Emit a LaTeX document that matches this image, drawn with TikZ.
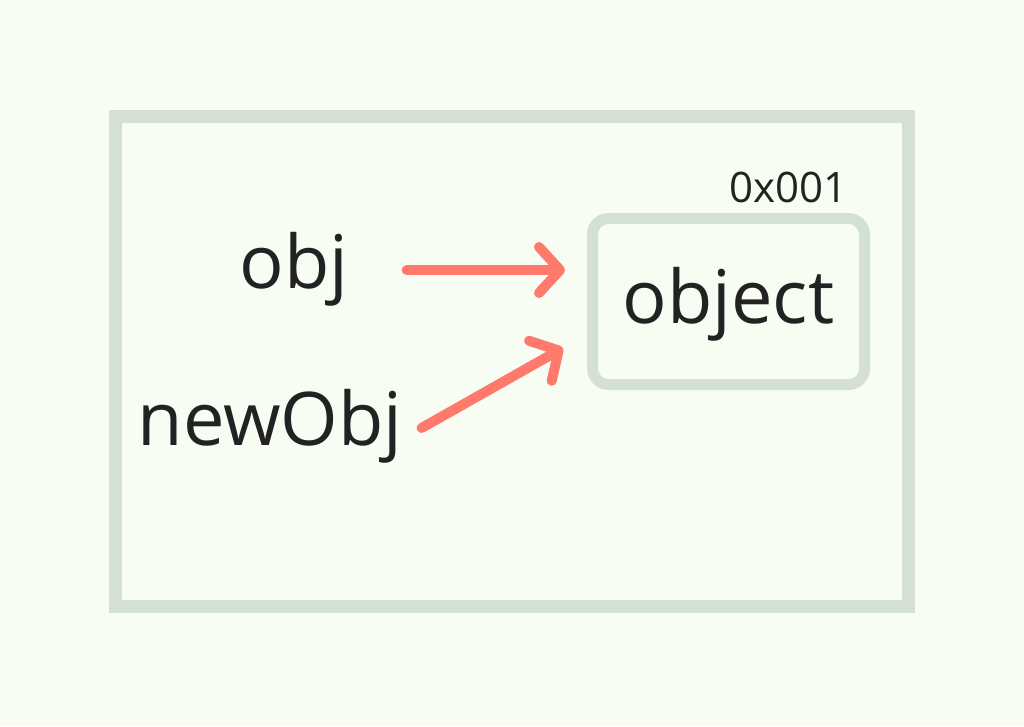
\documentclass[tikz,border=0pt]{standalone}
\usepackage{fontspec}
\setmainfont{Open Sans}
\usetikzlibrary{arrows.meta}
\definecolor{bg}{HTML}{F8FDF3}
\definecolor{frame}{HTML}{D4E0D6}
\definecolor{arr}{HTML}{FF796D}
\definecolor{ink}{HTML}{222222}
\tikzset{
  big/.style={font=\fontsize{74}{88}\selectfont, text=ink, inner sep=0pt},
  small/.style={font=\fontsize{42}{50}\selectfont, text=ink, inner sep=0pt},
  pointer/.style={draw=arr, line width=10pt, line cap=round,
    -{Straight Barb[length=21pt,width=46pt,round]}},
}
\begin{document}
\begin{tikzpicture}[x=1pt,y=-1pt]
\fill[bg] (0,0) rectangle (1024,726);
\useasboundingbox (0,0) rectangle (1024,726);
\draw[frame, line width=13pt] (115.5,116.5) rectangle (908.5,606.5);
\node[draw=frame, line width=11pt, rounded corners=16pt, minimum width=272pt, minimum height=166pt, big, text height=61pt, text depth=18pt] (box) at (728.5,301.5) {object};
\node[small, anchor=base east] (addr) at (848,202) {0x001};
\node[big, anchor=base] (obj) at (294,288) {obj};
\node[big, anchor=base] (newobj) at (270,445) {newObj};
\draw[pointer] ([shift={(58,-18)}]obj.base east) -- ([shift={(-22,-31.5)}]box.west);
\draw[pointer] ([shift={(19,-17)}]newobj.base east) -- ([shift={(-24,46.5)}]box.west);
\end{tikzpicture}
\end{document}
